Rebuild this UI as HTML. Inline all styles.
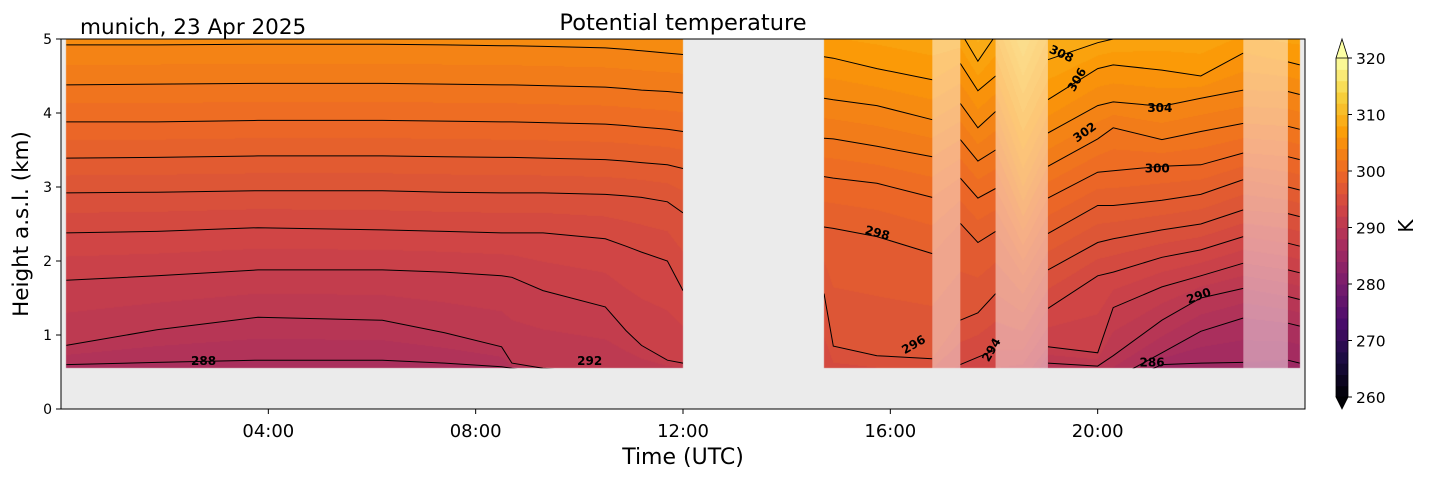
<!DOCTYPE html>
<html><head><meta charset="utf-8">
<style>
html,body{margin:0;padding:0;background:#fff;}
#wrap{position:relative;width:1429px;height:478px;overflow:hidden;font-family:"DejaVu Sans","Liberation Sans",sans-serif;}
#field{position:absolute;left:0;top:0;}
#svg{position:absolute;left:0;top:0;}
</style></head>
<body>
<div id="wrap">
<canvas id="field" width="1429" height="478"></canvas>
<svg id="svg" width="1429" height="478" xmlns="http://www.w3.org/2000/svg"></svg>
</div>
<script>
// ---- data ----
const levels1 = [286,288,290,292,294,296,298,300,302,304,306];
const times1 = [0.1,1.85,3.8,6.2,7.4,8.5,8.7,9.3,10.5,10.9,11.2,11.7,12];
const b1_286 = [0.3,0.3,0.3,0.3,0.3,0.3,0.3,0.3,0.3,0.3,0.3,0.3,0.3];
const b1_288 = [0.6,0.63,0.66,0.66,0.62,0.57,0.55,0.5,0.42,0.42,0.42,0.42,0.42];
const b1_290 = [0.86,1.07,1.24,1.2,1.03,0.84,0.62,0.55,0.5,0.5,0.5,0.5,0.5];
const b1_292 = [1.74,1.8,1.88,1.88,1.85,1.8,1.78,1.6,1.38,1.06,0.86,0.66,0.62];
const b1_294 = [2.38,2.4,2.45,2.42,2.4,2.38,2.38,2.38,2.3,2.2,2.12,2.0,1.6];
const b1_296 = [2.92,2.93,2.95,2.95,2.93,2.92,2.92,2.92,2.9,2.88,2.86,2.8,2.65];
const b1_298 = [3.39,3.4,3.42,3.42,3.41,3.4,3.4,3.39,3.37,3.35,3.33,3.3,3.25];
const b1_300 = [3.88,3.88,3.9,3.9,3.89,3.88,3.88,3.87,3.85,3.83,3.81,3.78,3.75];
const b1_302 = [4.38,4.39,4.4,4.4,4.39,4.38,4.38,4.37,4.35,4.33,4.31,4.29,4.27];
const b1_304 = [4.92,4.92,4.93,4.93,4.92,4.91,4.91,4.9,4.88,4.86,4.84,4.81,4.79];
const b1_306 = [5.45,5.45,5.45,5.45,5.45,5.45,5.45,5.45,5.42,5.4,5.38,5.35,5.33];

const levels2 = [284,286,288,290,292,294,296,298,300,302,304,306,308,310];
const times2 = [14.72,14.9,15.74,16.81,17.35,17.69,18.03,18.56,19.04,20.0,20.3,21.24,21.99,22.81,23.67,23.9];
const b2_284 = [-1.2,-1.2,-1.2,-1.2,-1.1,-1.1,-1.0,-0.9,-0.1,-0.1,0.0,0.1,0.2,0.3,0.35,0.33];
const b2_286 = [-0.8,-0.8,-0.8,-0.8,-0.7,-0.7,-0.6,-0.5,0.1,0.1,0.3,0.6,0.62,0.63,0.66,0.62];
const b2_288 = [-0.4,-0.4,-0.4,-0.4,-0.3,-0.3,-0.2,-0.1,0.35,0.3,0.4,0.76,1.05,1.23,1.16,1.12];
const b2_290 = [0.0,0.0,0.0,0.0,0.1,0.1,0.2,0.1,0.62,0.58,0.72,1.2,1.5,1.63,1.52,1.48];
const b2_292 = [0.2,0.2,0.2,0.2,0.3,0.35,0.3,0.4,0.84,0.76,1.37,1.65,1.8,1.97,1.88,1.84];
const b2_294 = [0.4,0.4,0.4,0.4,0.6,0.7,0.8,0.8,1.36,1.8,1.85,2.05,2.15,2.33,2.24,2.2];
const b2_296 = [1.56,0.85,0.72,0.68,1.2,1.3,1.56,1.3,1.88,2.25,2.3,2.42,2.5,2.69,2.64,2.6];
const b2_298 = [2.46,2.44,2.33,2.1,2.51,2.25,2.4,1.8,2.37,2.75,2.75,2.82,2.9,3.1,3.0,2.96];
const b2_300 = [3.14,3.12,3.05,2.86,3.12,2.85,2.98,2.2,2.85,3.2,3.22,3.28,3.3,3.46,3.41,3.37];
const b2_302 = [3.66,3.65,3.55,3.41,3.64,3.35,3.5,2.6,3.28,3.65,3.8,3.64,3.75,3.86,3.82,3.78];
const b2_304 = [4.2,4.18,4.1,3.91,4.13,3.8,4.02,3.0,3.73,4.1,4.15,4.09,4.2,4.31,4.29,4.25];
const b2_306 = [4.76,4.74,4.6,4.45,4.67,4.3,4.5,3.5,4.18,4.6,4.65,4.58,4.5,4.81,4.69,4.65];
const b2_308 = [5.3,5.3,5.25,5.1,5.1,4.7,5.05,4.0,4.72,4.95,5.0,5.1,5.1,5.3,5.2,5.2];
const b2_310 = [5.8,5.8,5.8,5.7,5.6,5.2,5.5,4.5,5.3,5.5,5.5,5.6,5.6,5.8,5.7,5.7];

const segments2 = [[14.72,16.81],[17.35,18.03],[19.04,22.81],[23.67,23.9]];
const masks2 = [[16.81,17.35],[18.03,19.04],[22.81,23.67]];
const xTicks = [4,8,12,16,20];
const xTickLabels = ["04:00","08:00","12:00","16:00","20:00"];
const yTicks = [0,1,2,3,4,5];
const cbTicks = [260,270,280,290,300,310,320];
const labelText = ["288","292","298","296","294","308","306","304","302","300","290","286"];
const labelT = [2.75,10.2,15.75,16.45,17.95,19.3,19.6,21.2,19.75,21.15,21.95,21.05];
const labelH = [0.65,0.65,2.38,0.87,0.8,4.8,4.45,4.07,3.74,3.25,1.53,0.63];
const labelRot = [0,0,15,-30,-60,25,-60,0,-35,0,-20,0];

const heights1 = [b1_286,b1_288,b1_290,b1_292,b1_294,b1_296,b1_298,b1_300,b1_302,b1_304,b1_306];
const heights2 = [b2_284,b2_286,b2_288,b2_290,b2_292,b2_294,b2_296,b2_298,b2_300,b2_302,b2_304,b2_306,b2_308,b2_310];

// ---- geometry ----
const X0=61,X1=1305,Y0=409,Y1=39;
const xs = t => X0 + (X1-X0)*t/24;
const ys = h => Y0 - (Y0-Y1)*h/5;
const CB_TOP=58, CB_BOT=397, CBX=1336, CBW=12;
const cbY = v => CB_BOT - (CB_BOT-CB_TOP)*(v-260)/60;
const HMIN=0.55;

const inf = [[0,0,0,4],[1/9,27,12,65],[2/9,74,12,107],[3/9,120,28,109],[4/9,165,44,96],[5/9,207,68,70],[6/9,237,105,37],[7/9,251,155,6],[8/9,247,209,61],[1,252,255,164]];
function inferno(v){
  let u=(v-260)/60; u=Math.max(0,Math.min(1,u));
  for(let i=0;i<inf.length-1;i++){
    if(u<=inf[i+1][0]){const a=inf[i],b=inf[i+1],f=(u-a[0])/(b[0]-a[0]);
      return [a[1]+(b[1]-a[1])*f,a[2]+(b[2]-a[2])*f,a[3]+(b[3]-a[3])*f];}
  }
  return [252,255,164];
}
function interpAt(times, arr, t){
  if(t<=times[0]) return arr[0];
  for(let i=0;i<times.length-1;i++){
    if(t<=times[i+1]){const f=(t-times[i])/(times[i+1]-times[i]);return arr[i]+(arr[i+1]-arr[i])*f;}
  }
  return arr[arr.length-1];
}
function thetaAt(levels, hs, h){
  const n=levels.length;
  let i=0;
  if(h<hs[0]) i=0; else if(h>=hs[n-1]) i=n-2; else {while(i<n-2 && h>=hs[i+1]) i++;}
  const d=hs[i+1]-hs[i];
  return levels[i]+(levels[i+1]-levels[i])*(h-hs[i])/(d>0.01?d:0.01);
}

// ---- field ----
const cv=document.getElementById('field');
const ctx=cv.getContext('2d');
ctx.fillStyle='#ebebeb';
ctx.fillRect(X0,Y1,X1-X0,Y0-Y1);
const img=ctx.getImageData(0,0,1429,478);
function paintBlock(levels,times,heights,t0,t1){
  const xa=Math.round(xs(t0)), xb=Math.round(xs(t1));
  const ya=Math.round(ys(5)), yb=Math.round(ys(HMIN));
  for(let x=xa;x<xb;x++){
    const t=(x+0.5-X0)/(X1-X0)*24;
    const hs=heights.map(a=>interpAt(times,a,t));
    for(let y=ya;y<yb;y++){
      const h=(Y0-(y+0.5))/(Y0-Y1)*5;
      let th=thetaAt(levels,hs,h);
      th=Math.floor(th)+0.5;
      const c=inferno(th);
      const k=(y*1429+x)*4;
      img.data[k]=c[0];img.data[k+1]=c[1];img.data[k+2]=c[2];img.data[k+3]=255;
    }
  }
}
paintBlock(levels1,times1,heights1,0.1,12);
paintBlock(levels2,times2,heights2,14.72,23.9);
ctx.putImageData(img,0,0);

// ---- svg ----
const NS='http://www.w3.org/2000/svg';
const svg=document.getElementById('svg');
function el(tag,attrs,parent){const e=document.createElementNS(NS,tag);for(const k in attrs)e.setAttribute(k,attrs[k]);(parent||svg).appendChild(e);return e;}

const defs=el('defs',{});
function addClip(id,t0,t1){
  const cp=el('clipPath',{id:id},defs);
  el('rect',{x:xs(t0),y:ys(5),width:xs(t1)-xs(t0),height:ys(HMIN)-ys(5)},cp);
}
addClip('clip-b1',0.1,12);
segments2.forEach((s,i)=>addClip('clip-s'+i,s[0],s[1]));

levels1.forEach((lv,li)=>{
  const pts=times1.map((t,i)=>xs(t).toFixed(1)+','+ys(heights1[li][i]).toFixed(1)).join(' ');
  const p=el('polyline',{points:pts,fill:'none',stroke:'#000','stroke-width':1,'clip-path':'url(#clip-b1)'});
  
  
});
segments2.forEach((s,si)=>{
  levels2.forEach((lv,li)=>{
    const pts=[];
    const tt=[s[0]].concat(times2.filter(t=>t>s[0]&&t<s[1])).concat([s[1]]);
    tt.forEach(t=>pts.push(xs(t).toFixed(1)+','+ys(interpAt(times2,heights2[li],t)).toFixed(1)));
    const p=el('polyline',{points:pts.join(' '),fill:'none',stroke:'#000','stroke-width':1,'clip-path':'url(#clip-s'+si+')'});
    
    
  });
});
masks2.forEach((m,i)=>{
  const r=el('rect',{x:xs(m[0]),y:ys(5),width:xs(m[1])-xs(m[0]),height:ys(HMIN)-ys(5),fill:'#fff','fill-opacity':0.45});
  
  
});
labelText.forEach((s,i)=>{
  const x=xs(labelT[i]),y=ys(labelH[i]);
  const t=el('text',{x:x,y:y+4,'text-anchor':'middle','font-size':12,'font-weight':'bold',fill:'#000',transform:'rotate('+labelRot[i]+' '+x+' '+y+')'});
  t.textContent=s;
  
  
});
const fr=el('rect',{x:X0,y:Y1,width:X1-X0,height:Y0-Y1,fill:'none',stroke:'#000','stroke-width':1});


xTicks.forEach((v,i)=>{
  const x=xs(v);
  const l=el('line',{x1:x,x2:x,y1:Y0,y2:Y0+5,stroke:'#000'});
  
  
  const t=el('text',{x:x,y:Y0+28,'text-anchor':'middle','font-size':18,fill:'#000'});
  t.textContent=xTickLabels[i];
  
  
});
yTicks.forEach(v=>{
  const y=ys(v);
  const l=el('line',{x1:X0-5,x2:X0,y1:y,y2:y,stroke:'#000'});
  
  
  const t=el('text',{x:X0-9,y:y+5,'text-anchor':'end','font-size':14,fill:'#000'});
  t.textContent=String(v);
  
  
});
function txt(s,attrs,name){const t=el('text',attrs);t.textContent=s;return t;}
txt('Potential temperature',{x:683,y:30,'text-anchor':'middle','font-size':22.5,fill:'#000'},'chart-title');
txt('munich, 23 Apr 2025',{x:80,y:34,'font-size':21.5,fill:'#000'},'location-date-label');
txt('Time (UTC)',{x:683,y:464,'text-anchor':'middle','font-size':22,fill:'#000'},'x-axis-title');
txt('Height a.s.l. (km)',{x:28,y:224,'text-anchor':'middle','font-size':21.5,fill:'#000',transform:'rotate(-90 28 224)'},'y-axis-title');
const cb=el('g',{});


for(let v=260;v<320;v+=2){
  const c=inferno(v+1);
  el('rect',{x:CBX,y:cbY(v+2),width:CBW,height:cbY(v)-cbY(v+2)+0.6,fill:'rgb('+c.map(Math.round).join(',')+')'},cb);
}
const ct=inferno(321);
el('polygon',{points:CBX+','+CB_TOP+' '+(CBX+CBW)+','+CB_TOP+' '+(CBX+CBW/2)+',39',fill:'rgb('+ct.map(Math.round).join(',')+')',stroke:'#000','stroke-width':0.8},cb);
el('polygon',{points:CBX+','+CB_BOT+' '+(CBX+CBW)+','+CB_BOT+' '+(CBX+CBW/2)+',409',fill:'rgb(0,0,4)',stroke:'#000','stroke-width':0.8},cb);
el('polyline',{points:CBX+','+CB_TOP+' '+CBX+','+CB_BOT,stroke:'#000','stroke-width':0.8,fill:'none'},cb);
el('polyline',{points:(CBX+CBW)+','+CB_TOP+' '+(CBX+CBW)+','+CB_BOT,stroke:'#000','stroke-width':0.8,fill:'none'},cb);
cbTicks.forEach(v=>{
  const y=cbY(v);
  const l=el('line',{x1:CBX+CBW,x2:CBX+CBW+4,y1:y,y2:y,stroke:'#000'});
  
  
  const t=el('text',{x:CBX+CBW+8,y:y+6,'font-size':15.5,fill:'#000'});
  t.textContent=String(v);
  
  
});
txt('K',{x:1413,y:226,'text-anchor':'middle','font-size':20,fill:'#000',transform:'rotate(-90 1413 226)'},'colorbar-label');
</script>
</body></html>
